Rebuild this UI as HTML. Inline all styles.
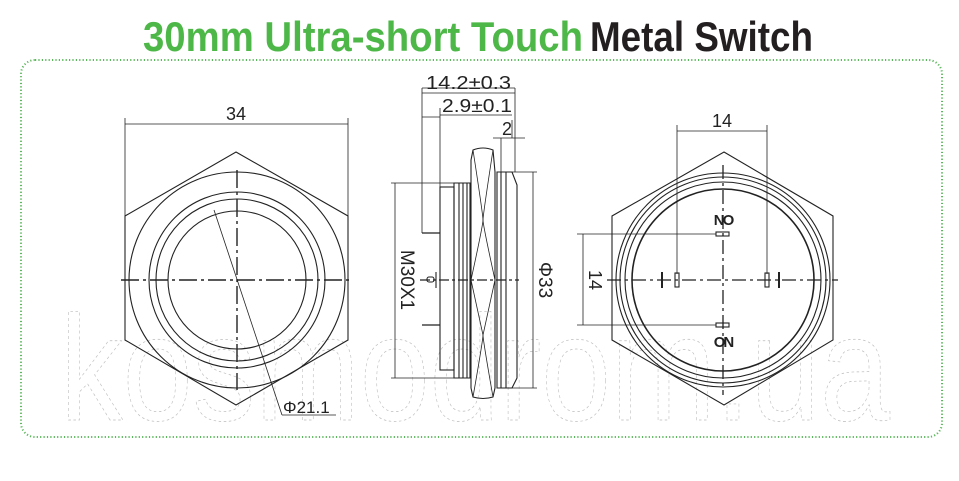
<!DOCTYPE html>
<html><head><style>
html,body{margin:0;padding:0;background:#fff;width:959px;height:481px;overflow:hidden}
svg text{font-family:"Liberation Sans",sans-serif}
</style></head><body>
<svg width="959" height="481" viewBox="0 0 959 481" xmlns="http://www.w3.org/2000/svg">
<text x="143" y="51" font-size="42" font-weight="bold" fill="#4db848" textLength="440" lengthAdjust="spacingAndGlyphs">30mm Ultra-short Touch</text>
<text x="590" y="51" font-size="42" font-weight="bold" fill="#231f20" textLength="223" lengthAdjust="spacingAndGlyphs">Metal Switch</text>
<rect x="21" y="60" width="921" height="377" rx="14" fill="none" stroke="#5cb85c" stroke-width="2" stroke-dasharray="1.2 2.2"/>
<text x="60" y="420" font-size="150" fill="none" stroke="#bbb" stroke-width="0.7" stroke-dasharray="3 3" textLength="830" lengthAdjust="spacingAndGlyphs">kosmodrom.ua</text>
<g fill="none" stroke="#222" stroke-width="1.1">
<polygon points="236,152 348,216 348,340 236,405 125,340 125,216"/>
<circle cx="237" cy="280" r="108"/>
<circle cx="237" cy="280" r="88"/>
<circle cx="237" cy="280" r="81"/>
<circle cx="237" cy="280" r="69"/>
<line x1="121" y1="280" x2="352" y2="280" stroke-dasharray="18 4 3 4" stroke-width="1.4"/>
<line x1="237" y1="170" x2="237" y2="390" stroke-dasharray="18 4 3 4" stroke-width="1.4"/>
<line x1="214" y1="210" x2="282" y2="415" stroke-width="0.8"/>
<line x1="282" y1="415" x2="336" y2="415" stroke-width="0.8"/>
<line x1="125" y1="118" x2="125" y2="216" stroke-width="0.8"/>
<line x1="348" y1="118" x2="348" y2="216" stroke-width="0.8"/>
<line x1="125" y1="124" x2="348" y2="124" stroke-width="0.8"/>
<line x1="422" y1="88" x2="515" y2="88" stroke-width="0.8"/>
<line x1="422" y1="93" x2="515" y2="93" stroke-width="0.8"/>
<line x1="440" y1="115" x2="512" y2="115" stroke-width="0.8"/>
<line x1="422" y1="117" x2="440" y2="117" stroke-width="0.8"/>
<line x1="493" y1="138" x2="525" y2="138" stroke-width="0.8"/>
<line x1="512" y1="120" x2="512" y2="138" stroke-width="0.8"/>
<line x1="422" y1="88" x2="422" y2="233" stroke-width="0.8"/>
<line x1="440" y1="108" x2="440" y2="187" stroke-width="0.8"/>
<line x1="515" y1="88" x2="515" y2="172" stroke-width="0.8"/>
<line x1="501" y1="138" x2="501" y2="172" stroke-width="0.8"/>
<rect x="440" y="187" width="14" height="183"/>
<path d="M454,183 L470,183 L470,378 L454,378 Z"/>
<line x1="459" y1="183" x2="459" y2="378"/><line x1="463" y1="183" x2="463" y2="378"/><line x1="467" y1="183" x2="467" y2="378"/>
<path d="M473,150 Q483,146 493,150 L495,172 L495,388 L493,397 Q483,400 473,397 L471,388 L471,160 Z"/>
<path d="M473,150 Q483,215 483,220 Q483,225 471,280 Q483,335 483,335 Q483,340 473,397" stroke-width="0.8"/>
<path d="M493,150 Q483,215 483,220 Q483,225 495,280 Q483,335 483,335 Q483,340 493,397" stroke-width="0.8"/>
<path d="M497,172 L512,172 L517,185 L517,378 L512,388 L497,388 Z"/>
<line x1="501" y1="172" x2="501" y2="388"/><line x1="506" y1="172" x2="506" y2="388"/>
<line x1="422" y1="233" x2="440" y2="233" stroke-width="1.3"/>
<line x1="422" y1="325" x2="440" y2="325" stroke-width="1.3"/>
<rect x="427" y="277" width="7" height="5" rx="2"/>
<line x1="436" y1="272" x2="436" y2="288"/>
<line x1="420" y1="280" x2="519" y2="280" stroke-dasharray="10 3 3 3" stroke-width="1.3"/>
<line x1="395" y1="183" x2="395" y2="378" stroke-width="0.8"/>
<line x1="391" y1="183" x2="454" y2="183" stroke-width="0.8"/>
<line x1="391" y1="378" x2="454" y2="378" stroke-width="0.8"/>
<line x1="533" y1="172" x2="533" y2="388" stroke-width="0.8"/>
<line x1="512" y1="172" x2="537" y2="172" stroke-width="0.8"/>
<line x1="512" y1="388" x2="537" y2="388" stroke-width="0.8"/>
<polygon points="724,152 833,216 833,340 724,405 612,340 612,216"/>
<circle cx="723" cy="280" r="107"/>
<circle cx="723" cy="280" r="103"/>
<circle cx="723" cy="280" r="98"/>
<circle cx="723" cy="280" r="91" stroke-width="1.6"/>
<line x1="607" y1="280" x2="838" y2="280" stroke-dasharray="14 4 3 4" stroke-width="1.3"/>
<line x1="723" y1="165" x2="723" y2="395" stroke-dasharray="14 4 3 4" stroke-width="1.3"/>
<line x1="677" y1="125" x2="677" y2="274" stroke-width="0.8"/>
<line x1="767" y1="125" x2="767" y2="274" stroke-width="0.8"/>
<line x1="677" y1="131" x2="767" y2="131" stroke-width="0.8"/>
<line x1="577" y1="234" x2="716" y2="234" stroke-width="0.8"/>
<line x1="577" y1="325" x2="716" y2="325" stroke-width="0.8"/>
<line x1="583" y1="234" x2="583" y2="325" stroke-width="0.8"/>
<rect x="716" y="232" width="13" height="4"/>
<rect x="716" y="323" width="13" height="4"/>
<rect x="675" y="273" width="4" height="14"/>
<rect x="765" y="273" width="4" height="14"/>
<line x1="662" y1="272" x2="662" y2="288" stroke-width="2"/>
<line x1="779" y1="272" x2="779" y2="288" stroke-width="2"/>
</g>
<g fill="#222" font-size="17">
<text x="236" y="120" text-anchor="middle" font-size="18">34</text>
<text x="283" y="413">Φ21.1</text>
<text x="426" y="89" font-size="18" textLength="85" lengthAdjust="spacingAndGlyphs">14.2±0.3</text>
<text x="442" y="112" font-size="18" textLength="70" lengthAdjust="spacingAndGlyphs">2.9±0.1</text>
<text x="502" y="135" font-size="18">2</text>
<text x="722" y="127" text-anchor="middle" font-size="18">14</text>
<text x="723" y="225" text-anchor="middle" font-size="15" font-weight="bold" letter-spacing="-2">NO</text>
<text x="723" y="347" text-anchor="middle" font-size="15" font-weight="bold" letter-spacing="-2">ON</text>
<text transform="translate(401,280) rotate(90)" text-anchor="middle" font-size="19">M30X1</text>
<text transform="translate(539,280) rotate(90)" text-anchor="middle" font-size="19">Φ33</text>
<text transform="translate(589,280) rotate(90)" text-anchor="middle" font-size="18">14</text>
</g>
</svg>
</body></html>
